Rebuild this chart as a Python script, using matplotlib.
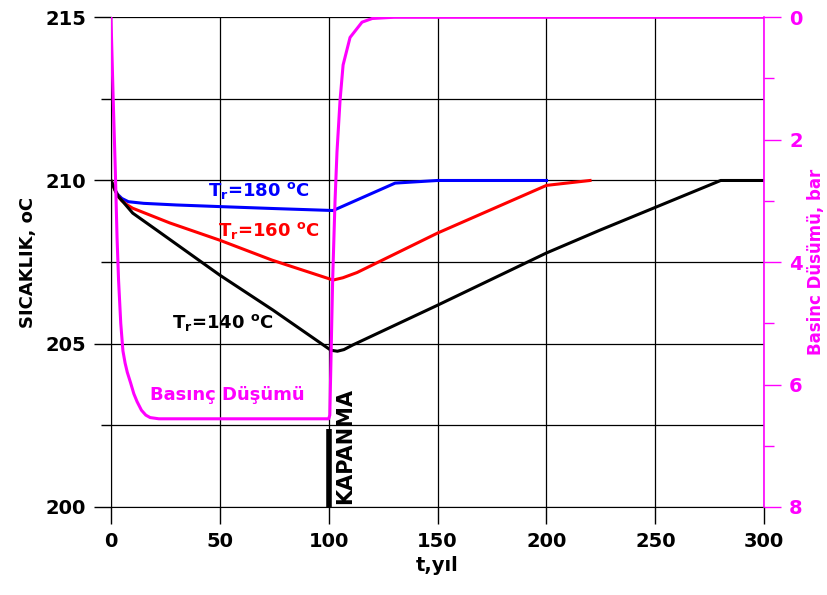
import matplotlib
matplotlib.use("Agg")
import matplotlib.pyplot as plt
from matplotlib.ticker import MultipleLocator

# Basinc dusumu (bar), sag eksen
t_p = [0, 1, 2, 2.8, 3.5, 4.5, 5.5, 6.5, 7.5, 9, 10.5, 12, 14, 16, 18, 22, 100,
       100.5, 101.8, 102.9, 103.8, 105.2, 106.6, 109.8, 115.3, 120, 130, 300]
p = [0, 1.3, 2.5, 3.6, 4.3, 5.0, 5.45, 5.65, 5.8, 5.97, 6.15, 6.28, 6.42, 6.5,
     6.54, 6.56, 6.56,
     6.5, 4.3, 3.0, 2.2, 1.36, 0.78, 0.33, 0.08, 0.02, 0, 0]

# Sicaklik, Tr = 180 oC
t_180 = [0, 1, 2, 3, 5, 8, 15, 30, 50, 75, 102, 130.5, 150, 200]
T_180 = [210, 209.85, 209.7, 209.58, 209.45, 209.35, 209.3, 209.25, 209.2,
         209.14, 209.08, 209.92, 210, 210]

# Sicaklik, Tr = 160 oC
t_160 = [0, 1, 2, 3.5, 5, 7.5, 10, 27, 50, 74, 102, 106.5, 113, 150, 200, 220]
T_160 = [210, 209.85, 209.68, 209.5, 209.38, 209.25, 209.15, 208.7, 208.17,
         207.56, 206.95, 207.02, 207.18, 208.39, 209.85, 210.0]

# Sicaklik, Tr = 140 oC
t_140 = [0, 1, 2, 3.5, 5.5, 10, 21, 50, 74.4, 101, 104, 107, 111, 150, 200,
         224.6, 280, 300]
T_140 = [210, 209.85, 209.68, 209.5, 209.35, 209.0, 208.48, 207.1, 206.03,
         204.8, 204.77, 204.82, 204.96, 206.18, 207.78, 208.48, 210, 210]

kapanma_t = [100, 100]
kapanma_T = [200, 202.4]

mag = '#ff00ff'

fig = plt.figure(figsize=(8.28, 5.95), dpi=100)
ax = fig.add_axes([0.134, 0.148, 0.789, 0.823])

ax.plot(t_180, T_180, color='#0000ff', lw=2.2)
ax.plot(t_160, T_160, color='#ff0000', lw=2.2)
ax.plot(t_140, T_140, color='black', lw=2.2)
ax.plot(kapanma_t, kapanma_T, color='black', lw=4, solid_capstyle='butt')

ax.set_xlim(0, 300)
ax.set_ylim(200, 215)
ax.xaxis.set_major_locator(MultipleLocator(50))
ax.yaxis.set_major_locator(MultipleLocator(5))
ax.yaxis.set_minor_locator(MultipleLocator(2.5))
ax.grid(True, which='both', color='black', lw=0.9)
ax.tick_params(axis='both', which='major', direction='out', length=12,
               width=1, labelsize=14, pad=6)
ax.tick_params(axis='y', which='minor', direction='out', length=7, width=1)
for lab in ax.get_xticklabels() + ax.get_yticklabels():
    lab.set_fontweight('bold')
for s in ['top', 'right']:
    ax.spines[s].set_visible(False)

ax.set_xlabel('t,yıl', fontsize=14, fontweight='bold', labelpad=4)
ax.set_ylabel('SICAKLIK, oC', fontsize=13, fontweight='bold', labelpad=6)

ax.text(44.6, 209.7, 'T$_\\mathregular{r}$=180 $^\\mathregular{o}$C',
        color='#0000ff', fontsize=13, fontweight='bold', va='center')
ax.text(49.2, 208.48, 'T$_\\mathregular{r}$=160 $^\\mathregular{o}$C',
        color='#ff0000', fontsize=13, fontweight='bold', va='center')
ax.text(28, 205.66, 'T$_\\mathregular{r}$=140 $^\\mathregular{o}$C',
        color='black', fontsize=13, fontweight='bold', va='center')
ax.text(17.9, 203.43, 'Basınç Düşümü', color=mag, fontsize=13,
        fontweight='bold', va='center')
ax.text(107.5, 200.1, 'KAPANMA', rotation=90, fontsize=15,
        fontweight='bold', ha='center', va='bottom')

ax2 = ax.twinx()
ax2.plot(t_p, p, color=mag, lw=2.2)
ax2.set_ylim(8, 0)
ax2.set_xlim(0, 300)
ax2.yaxis.set_major_locator(MultipleLocator(2))
ax2.yaxis.set_minor_locator(MultipleLocator(1))
ax2.tick_params(axis='y', which='major', direction='out', length=12,
                width=1, color=mag, labelcolor=mag, labelsize=14, pad=6)
ax2.tick_params(axis='y', which='minor', direction='out', length=7,
                width=1, color=mag)
for lab in ax2.get_yticklabels():
    lab.set_fontweight('bold')
for s in ['top', 'left', 'bottom']:
    ax2.spines[s].set_visible(False)
ax2.spines['right'].set_color(mag)
ax2.spines['right'].set_linewidth(1.2)
ax2.set_ylabel('Basinc Düsümü, bar', color=mag, fontsize=12,
               fontweight='bold', labelpad=3)

fig.savefig('out.png', dpi=100)
